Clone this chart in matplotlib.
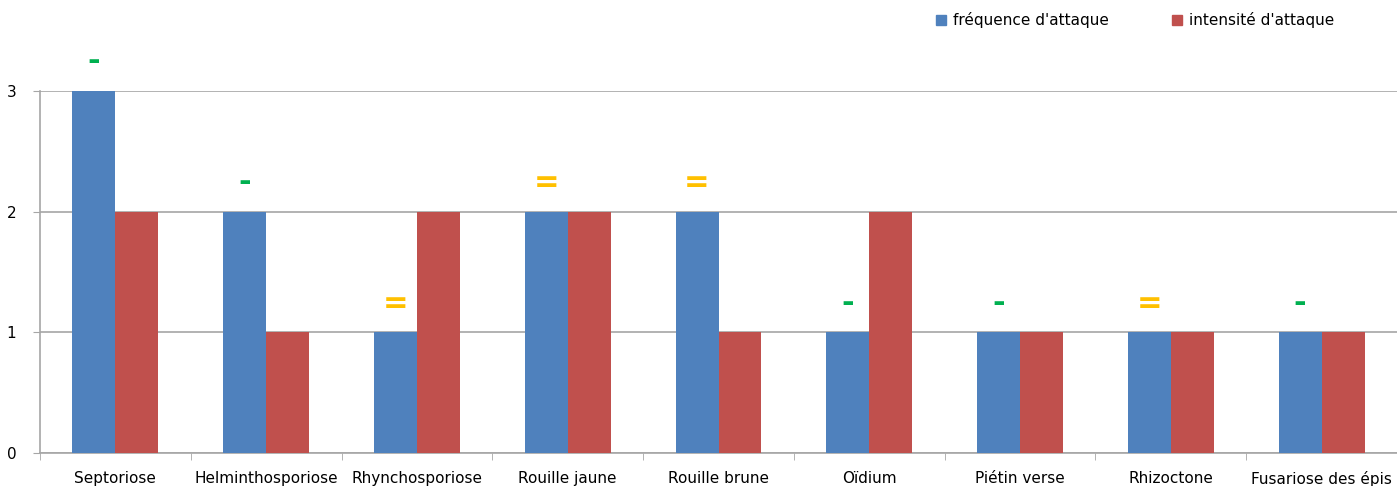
import numpy as np
import matplotlib.pyplot as plt
from matplotlib.patches import Patch

maladies = ["Septoriose", "Helminthosporiose", "Rhynchosporiose", "Rouille jaune",
            "Rouille brune", "Oïdium", "Piétin verse", "Rhizoctone", "Fusariose des épis"]
frequence = [3, 2, 1, 2, 2, 1, 1, 1, 1]
intensite = [2, 1, 2, 2, 1, 2, 1, 1, 1]
tendance = ["-", "-", "=", "=", "=", "-", "-", "=", "-"]

blue = "#4F81BD"
red = "#C0504D"
tend_colors = {"-": "#00B050", "=": "#FFC000"}

def main():
    fig = plt.figure(figsize=(13.97, 4.86), dpi=100)
    ax = fig.add_axes([40 / 1397, 1 - 453 / 486, 1 - 40 / 1397, (453 - 91) / 486])

    x = np.arange(len(maladies))
    w = 0.285
    ax.bar(x - w / 2, frequence, w, color=blue, zorder=3)
    ax.bar(x + w / 2, intensite, w, color=red, zorder=3)

    # trend symbol above each frequency bar
    for xi, val, t in zip(x, frequence, tendance):
        ax.annotate(t, (xi - w / 2, val), xytext=(0, 21), textcoords="offset points",
                    ha="center", va="center", fontsize=22, fontweight="bold",
                    color=tend_colors[t], annotation_clip=False)

    ax.set_xlim(-0.5, len(maladies) - 0.5)
    ax.set_ylim(0, 3)
    ax.set_yticks([0, 1, 2, 3])
    ax.yaxis.grid(True, color="#A6A6A6", linewidth=1.2, zorder=0)
    ax.set_xticks(x)
    ax.set_xticklabels(maladies, fontsize=11)
    ax.set_xticks(np.arange(len(maladies) + 1) - 0.5, minor=True)
    ax.tick_params(axis="x", which="major", length=0, pad=13)
    ax.tick_params(axis="x", which="minor", length=5, color="#A6A6A6")
    ax.tick_params(axis="y", length=5, color="#A6A6A6", labelsize=11, pad=12)

    for s in ["top", "right"]:
        ax.spines[s].set_visible(False)
    for s in ["left", "bottom"]:
        ax.spines[s].set_color("#A6A6A6")
        ax.spines[s].set_linewidth(1.2)

    handles = [Patch(color=blue, label="fréquence d'attaque"),
               Patch(color=red, label="intensité d'attaque")]
    fig.legend(handles=handles, loc="center left", bbox_to_anchor=(922 / 1397, 1 - 20 / 486),
               ncol=2, frameon=False, fontsize=11, handlelength=0.65, handleheight=0.65,
               handletextpad=0.5, columnspacing=4.1)

    plt.savefig("out.png", dpi=100)

if __name__ == "__main__":
    main()
